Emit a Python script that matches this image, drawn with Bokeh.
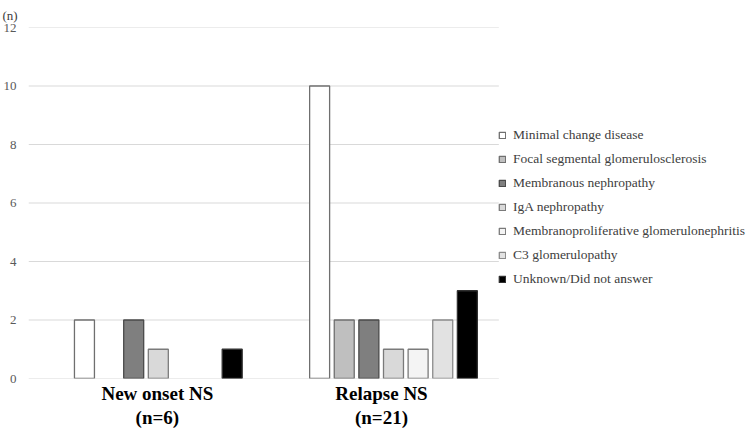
from bokeh.plotting import figure
from bokeh.models import ColumnDataSource, Range1d, FixedTicker, Legend, LegendItem
from bokeh.embed import file_html
from bokeh.resources import INLINE

groups = ["New onset NS\n(n=6)", "Relapse NS\n(n=21)"]
diseases = [
    "Minimal change disease",
    "Focal segmental glomerulosclerosis",
    "Membranous nephropathy",
    "IgA nephropathy",
    "Membranoproliferative glomerulonephritis",
    "C3 glomerulopathy",
    "Unknown/Did not answer",
]
minimal_change = [2, 10]
fsgs = [0, 2]
membranous = [2, 2]
iga = [1, 1]
mpgn = [0, 1]
c3 = [0, 2]
unknown = [1, 3]
series = [minimal_change, fsgs, membranous, iga, mpgn, c3, unknown]
y_ticks = [0, 2, 4, 6, 8, 10, 12]

fills = ["#ffffff", "#bfbfbf", "#7f7f7f", "#d9d9d9", "#f4f4f4", "#e2e2e2", "#000000"]
lines = ["#6f6f6f", "#6f6f6f", "#4a4a4a", "#7a7a7a", "#7a7a7a", "#8a8a8a", "#303030"]

W, H = 749, 430
LEFT, TOP, BOTTOM = 27, 27, 52
FRAME_W = W - LEFT
BAR_AREA_PX = 471
x_end = 2 * FRAME_W / BAR_AREA_PX

group_center = [0.552, 1.552]
label_pos = [0.548, 1.501]
slot = 0.1047
bar_w = 0.085

p = figure(width=W, height=H, output_backend="svg", toolbar_location=None,
           x_range=Range1d(0, x_end), y_range=Range1d(0, 12),
           min_border_left=LEFT, min_border_top=TOP, min_border_right=0,
           min_border_bottom=BOTTOM, title="(n)")
p.outline_line_color = None
p.background_fill_color = "white"
p.border_fill_color = "white"

p.title.align = "left"
p.title.offset = -26
p.title.text_font = "Liberation Serif"
p.title.text_font_size = "13px"
p.title.text_font_style = "normal"
p.title.text_color = "#404040"
p.title.standoff = 10

# horizontal gridlines limited to the bar area
grid_src = ColumnDataSource(dict(y=y_ticks, x0=[0] * len(y_ticks), x1=[2] * len(y_ticks)))
p.segment(x0="x0", x1="x1", y0="y", y1="y", source=grid_src,
          line_color="#d9d9d9", line_width=1)

items = []
for j, (name, vals) in enumerate(zip(diseases, series)):
    xs, tops = [], []
    for g, v in enumerate(vals):
        if v > 0:
            xs.append(group_center[g] + (j - 3) * slot)
            tops.append(v)
    src = ColumnDataSource(dict(x=xs, top=tops))
    r = p.vbar(x="x", top="top", bottom=0, width=bar_w, source=src,
               fill_color=fills[j], line_color=lines[j], line_width=1.3)
    items.append(LegendItem(label=name, renderers=[r]))

legend = Legend(items=items, location=(470, 91), orientation="vertical")
legend.border_line_color = None
legend.background_fill_alpha = 0
legend.margin = 0
legend.padding = 0
legend.glyph_width = 8
legend.glyph_height = 8
legend.label_standoff = 7
legend.label_height = 16
legend.spacing = 8
legend.label_text_font = "Liberation Serif"
legend.label_text_font_size = "13.5px"
legend.label_text_color = "#404040"
p.add_layout(legend)

# axes
p.yaxis.ticker = FixedTicker(ticks=y_ticks)
p.yaxis.axis_line_color = None
p.yaxis.major_tick_line_color = None
p.yaxis.minor_tick_line_color = None
p.yaxis.major_tick_out = 0
p.yaxis.major_tick_in = 0
p.yaxis.minor_tick_out = 0
p.yaxis.major_label_standoff = 12
p.yaxis.major_label_text_font = "Liberation Serif"
p.yaxis.major_label_text_font_size = "13px"
p.yaxis.major_label_text_color = "#595959"

p.xaxis.ticker = FixedTicker(ticks=label_pos)
p.xaxis.major_label_overrides = {label_pos[0]: groups[0], label_pos[1]: groups[1]}
p.xaxis.axis_line_color = None
p.xaxis.major_tick_line_color = None
p.xaxis.minor_tick_line_color = None
p.xaxis.major_tick_out = 0
p.xaxis.major_tick_in = 0
p.xaxis.minor_tick_out = 0
p.xaxis.major_label_standoff = 4
p.xaxis.major_label_text_font = "Liberation Serif"
p.xaxis.major_label_text_font_size = "19px"
p.xaxis.major_label_text_font_style = "bold"
p.xaxis.major_label_text_color = "#000000"
p.xaxis.major_label_text_line_height = 1.15

p.xgrid.grid_line_color = None
p.ygrid.grid_line_color = None

open("out.html", "w").write(file_html(p, INLINE))
